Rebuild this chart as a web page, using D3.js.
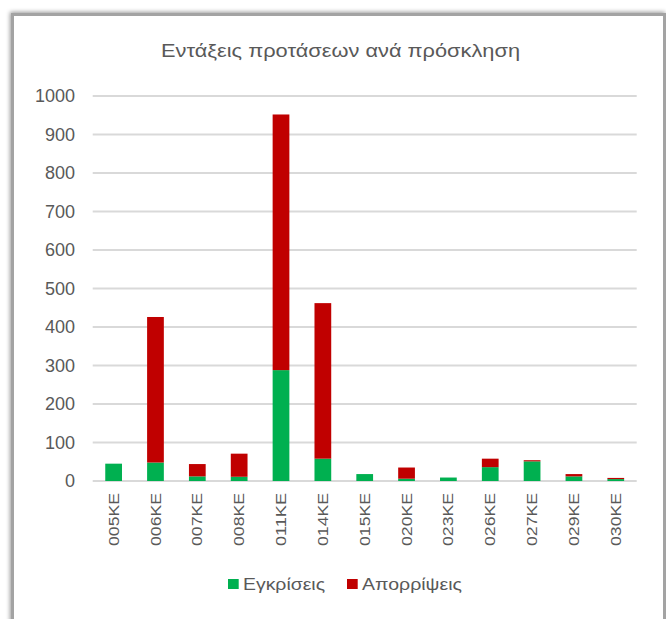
<!DOCTYPE html>
<html><head><meta charset="utf-8">
<script src="https://cdn.jsdelivr.net/npm/d3@7"></script>
<style>body{margin:0;background:#fff;} svg{display:block;}</style>
</head><body>
<svg id="chart" width="666" height="619"></svg>
<script>
const categories = ["005KE","006KE","007KE","008KE","011KE","014KE","015KE","020KE","023KE","026KE","027KE","029KE","030KE"];
const approvals = [45, 48, 12, 11, 288, 58, 18, 6, 9, 36, 51, 12, 5];
const rejections = [0, 378, 32, 60, 664, 404, 0, 29, 0, 22, 3, 6, 3];
const yTicks = [0,100,200,300,400,500,600,700,800,900,1000];
const seriesNames = ["Εγκρίσεις","Απορρίψεις"];
const colors = ["#00b050","#c00000"];
const title = "Εντάξεις προτάσεων ανά πρόσκληση";

const FONT = "'Liberation Sans',Arial,sans-serif";
const TXT = "#595959";
const svg = d3.select("#chart");
const defs = svg.append("defs");
const f = defs.append("filter").attr("id","sh").attr("x","-5%").attr("y","-5%").attr("width","110%").attr("height","110%");
f.append("feDropShadow").attr("dx",-1).attr("dy",-1).attr("stdDeviation",2.2).attr("flood-color","#000").attr("flood-opacity",0.4);

svg.append("rect").attr("x",12.5).attr("y",14.5).attr("width",652).attr("height",700)
  .attr("fill","#fff").attr("stroke","#a3a3a3").attr("stroke-width",3).attr("filter","url(#sh)");

const m = {left:92.7, right:636.7, top:96, bottom:481};
const x = d3.scaleBand().domain(categories).range([m.left,m.right]).paddingInner(0.6).paddingOuter(0.3);
const y = d3.scaleLinear().domain([0,1000]).range([m.bottom,m.top]);

svg.append("g").selectAll("line").data(yTicks).join("line")
  .attr("x1",m.left).attr("x2",m.right).attr("y1",d=>y(d)).attr("y2",d=>y(d))
  .attr("stroke","#d9d9d9").attr("stroke-width",2);

const yAxis = svg.append("g").attr("transform",`translate(75,0)`)
  .call(d3.axisLeft(y).tickValues(yTicks).tickFormat(d3.format("d")).tickSize(0).tickPadding(0));
yAxis.select(".domain").remove();
yAxis.selectAll("text").attr("font-family",FONT).attr("font-size",18).attr("fill",TXT);

const data = categories.map((c,i)=>({cat:c, a:approvals[i], r:rejections[i]}));
const stack = d3.stack().keys(["a","r"])(data);
svg.append("g").selectAll("g").data(stack).join("g").attr("fill",(d,i)=>colors[i])
  .selectAll("rect").data(d=>d).join("rect")
  .attr("x",d=>x(d.data.cat)).attr("width",x.bandwidth())
  .attr("y",d=>y(d[1])).attr("height",d=>y(d[0])-y(d[1]));

const xAxis = svg.append("g").attr("transform",`translate(0,493)`)
  .call(d3.axisBottom(x).tickSize(0).tickPadding(0));
xAxis.select(".domain").remove();
xAxis.selectAll("text").attr("font-family",FONT).attr("font-size",14).attr("fill",TXT)
  .attr("transform","rotate(-90)").attr("text-anchor","end").attr("dy","0.36em").attr("y",0).attr("x",0)
  .attr("textLength",53).attr("lengthAdjust","spacingAndGlyphs");

svg.append("text").attr("x",340.5).attr("y",57.3).attr("text-anchor","middle")
  .attr("font-family",FONT).attr("font-size",18.5).attr("fill",TXT)
  .attr("textLength",359).attr("lengthAdjust","spacingAndGlyphs").text(title);

const legX = [228, 347];
const legW = [82, 100];
seriesNames.forEach((n,i)=>{
  const g = svg.append("g").attr("transform",`translate(${legX[i]},579)`);
  g.append("rect").attr("width",10.7).attr("height",10).attr("fill",colors[i]);
  g.append("text").attr("x",15).attr("y",11).attr("font-family",FONT).attr("font-size",16).attr("fill",TXT)
    .attr("textLength",legW[i]).attr("lengthAdjust","spacingAndGlyphs").text(n);
});
</script>
</body></html>
